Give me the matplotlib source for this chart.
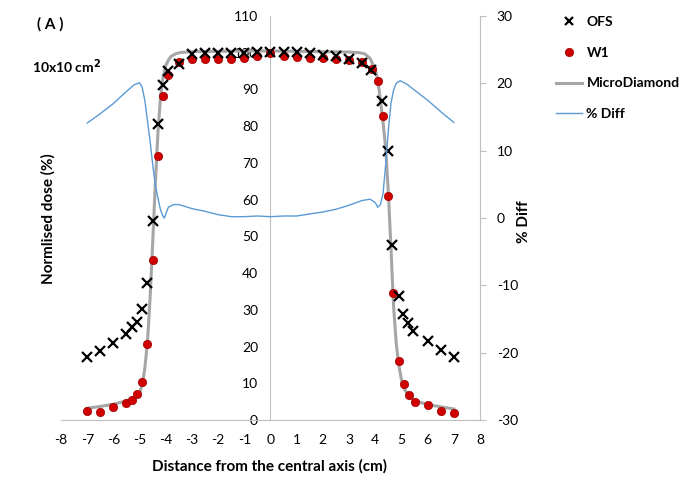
import matplotlib
matplotlib.use("Agg")
import matplotlib.pyplot as plt
from matplotlib.lines import Line2D

plt.rcParams['font.family'] = ['Lato', 'DejaVu Sans']
plt.rcParams['axes.unicode_minus'] = False

# OFS measurements (x markers)
OFS_X = [-7.0, -6.5, -6.0, -5.5, -5.3, -5.1, -4.9, -4.7, -4.5, -4.3, -4.1, -3.9, -3.5,
         -3.0, -2.5, -2.0, -1.5, -1.0, -0.5, 0.0, 0.5, 1.0, 1.5, 2.0, 2.5, 3.0, 3.5,
         3.85, 4.27, 4.48, 4.65, 4.9, 5.07, 5.26, 5.45, 6.0, 6.5, 7.0]
OFS_Y = [17.1, 18.8, 21.0, 23.5, 25.3, 26.8, 30.1, 37.4, 54.2, 80.6, 91.2, 95.1, 96.9,
         99.6, 99.8, 99.9, 100.0, 100.0, 100.1, 100.2, 100.1, 100.1, 99.8, 99.5, 99.1, 98.2, 97.1,
         95.3, 86.9, 73.3, 47.6, 33.8, 28.9, 26.5, 24.3, 21.6, 19.2, 17.2]

# W1 measurements (red dots)
W1_X = [-7.0, -6.5, -6.0, -5.5, -5.3, -5.1, -4.9, -4.7, -4.5, -4.3, -4.1, -3.9, -3.5,
        -3.0, -2.5, -2.0, -1.5, -1.0, -0.5, 0.0, 0.5, 1.0, 1.5, 2.0, 2.5, 3.0, 3.5,
        3.87, 4.12, 4.29, 4.5, 4.69, 4.91, 5.1, 5.3, 5.5, 6.0, 6.5, 7.0]
W1_Y = [2.4, 2.1, 3.6, 4.5, 5.4, 7.0, 10.3, 20.6, 43.7, 71.9, 88.3, 93.9, 97.6,
        98.2, 98.2, 98.4, 98.2, 98.7, 99.0, 99.8, 99.1, 98.9, 98.7, 98.6, 98.2, 98.0, 97.6,
        95.6, 92.3, 82.9, 61.0, 34.5, 16.1, 9.7, 6.8, 5.0, 4.1, 2.5, 1.8]

# MicroDiamond profile (grey line)
MD_X = [-7.0, -6.5, -6.0, -5.5, -5.2, -5.0, -4.9, -4.8, -4.7, -4.6, -4.5, -4.4, -4.3,
        -4.2, -4.1, -4.0, -3.9, -3.8, -3.6, -3.4, -3.0, -2.0, -1.0, 0.0, 1.0, 2.0, 3.0,
        3.4, 3.6, 3.8, 4.0, 4.1, 4.2, 4.3, 4.4, 4.5, 4.6, 4.7, 4.8, 4.9, 5.0, 5.1, 5.3,
        5.5, 6.0, 6.5, 7.0]
MD_Y = [3.2, 3.7, 4.3, 5.2, 6.2, 7.5, 9.5, 14.0, 21.0, 33.0, 48.0, 64.0, 78.0,
        88.0, 93.5, 96.5, 98.0, 99.0, 99.8, 100.1, 100.3, 100.4, 100.5, 100.5, 100.4, 100.3, 100.2,
        100.0, 99.7, 98.5, 95.5, 92.5, 87.0, 81.0, 74.0, 62.0, 47.0, 31.0, 21.0, 15.0, 11.0, 8.5, 6.5,
        5.3, 4.2, 3.6, 3.0]

# % Diff (blue line, right axis)
DIFF_X = [-7.0, -6.5, -6.0, -5.5, -5.2, -5.0, -4.9, -4.8, -4.7, -4.6, -4.5, -4.4, -4.3,
          -4.2, -4.1, -4.05, -4.0, -3.9, -3.7, -3.5, -3.0, -2.5, -2.0, -1.5, -1.0, -0.5, 0.0,
          0.5, 1.0, 1.5, 2.0, 2.5, 3.0, 3.5, 3.8, 4.0, 4.1, 4.2, 4.3, 4.4, 4.5, 4.6, 4.7,
          4.8, 4.95, 5.2, 5.5, 6.0, 6.5, 7.0]
DIFF_Y = [14.1, 15.5, 17.0, 18.8, 19.8, 20.1, 19.4, 17.5, 14.5, 11.5, 8.0, 5.0, 3.0,
          1.2, 0.2, 0.0, 0.6, 1.6, 2.0, 2.0, 1.4, 1.0, 0.5, 0.2, 0.2, 0.3, 0.2,
          0.3, 0.3, 0.6, 0.9, 1.3, 1.9, 2.6, 2.8, 2.3, 1.6, 2.0, 3.7, 8.0, 13.0, 17.0, 19.0,
          20.0, 20.4, 19.9, 19.0, 17.5, 15.8, 14.2]

X_TICKS = list(range(-8, 9))
Y_TICKS = list(range(0, 111, 10))
DIFF_TICKS = list(range(-30, 31, 10))

AXIS_GREY = "#BFBFBF"

fig = plt.figure(figsize=(6.94, 4.83), dpi=100)
ax = fig.add_axes([0.0879, 0.1304, 0.6037, 0.8364])
ax2 = ax.twinx()

ax.plot(MD_X, MD_Y, color="#A6A6A6", linewidth=2.2, zorder=2)
ax.plot(W1_X, W1_Y, linestyle="none", marker="o", markersize=6,
        markerfacecolor="#D00000", markeredgecolor="#A00000", markeredgewidth=0.5, zorder=3)
ax.plot(OFS_X, OFS_Y, linestyle="none", marker="x", markersize=7,
        markeredgewidth=1.6, color="black", zorder=4)
ax2.plot(DIFF_X, DIFF_Y, color="#5B9BD5", linewidth=1.0)

ax.set_xlim(-8, 8)
ax.set_ylim(0, 110)
ax2.set_ylim(-30, 30)
ax.set_xticks(X_TICKS)
ax.set_yticks(Y_TICKS)
ax2.set_yticks(DIFF_TICKS)

for s in ["top", "right"]:
    ax.spines[s].set_visible(False)
ax.spines["left"].set_position(("data", 0))
ax.spines["left"].set_color(AXIS_GREY)
ax.spines["bottom"].set_color(AXIS_GREY)
for s in ["top", "left", "bottom"]:
    ax2.spines[s].set_visible(False)
ax2.spines["right"].set_color(AXIS_GREY)

ax.tick_params(axis="y", length=0, pad=9, labelsize=10)
ax.tick_params(axis="x", length=0, pad=10, labelsize=10)
ax2.tick_params(axis="y", length=4, color=AXIS_GREY, pad=8, labelsize=10)

fig.text(0.389, 0.035, "Distance from the central axis (cm)", ha="center", va="center",
         fontsize=11, fontweight="bold")
fig.text(0.069, 0.548, "Normlised dose (%)", ha="center", va="center", rotation=90,
         fontsize=11, fontweight="bold")
fig.text(0.755, 0.54, "% Diff", ha="center", va="center", rotation=90,
         fontsize=11, fontweight="bold")
fig.text(0.053, 0.950, "( A )", ha="left", va="center", fontsize=11, fontweight="bold")
fig.text(0.046, 0.861, "10x10 cm$^{\\mathbf{2}}$", ha="left", va="center", fontsize=10, fontweight="bold")

handles = [
    Line2D([], [], linestyle="none", marker="x", color="black", markersize=6, markeredgewidth=1.6),
    Line2D([], [], linestyle="none", marker="o", markersize=6, markerfacecolor="#D00000",
           markeredgecolor="#A00000", markeredgewidth=0.5),
    Line2D([], [], color="#A6A6A6", linewidth=2.2),
    Line2D([], [], color="#5B9BD5", linewidth=1.0),
]
fig.legend(handles, ["OFS", "W1", "MicroDiamond", "% Diff"], loc="upper left",
           bbox_to_anchor=(0.783, 0.993), frameon=False, handlelength=1.9,
           labelspacing=1.35, handletextpad=0.3, prop={"weight": "bold", "size": 10})

fig.savefig("out.png", dpi=100)
